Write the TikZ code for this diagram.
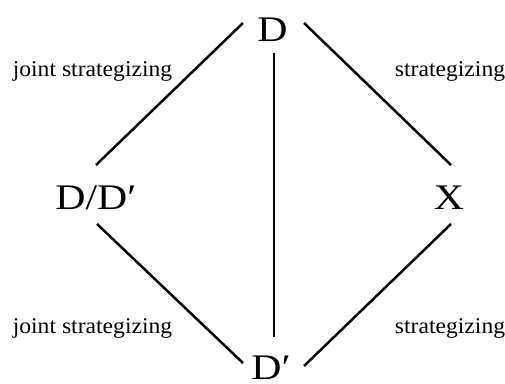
\documentclass[tikz,border=0pt]{standalone}
\usepackage{fontspec}
\setmainfont{Liberation Serif}
\usetikzlibrary{calc}
\newcommand{\bigwide}[1]{\scalebox{1.16}[1]{#1}}
\newcommand{\lblwide}[1]{\scalebox{1.05}[1]{#1}}

\begin{document}
\begin{tikzpicture}[x=1pt, y=1pt, vertex/.style={inner sep=0pt, anchor=base, font=\fontsize{36}{40}\selectfont}, lbl/.style={inner sep=0pt, anchor=base, font=\fontsize{22.5}{26}\selectfont}, edge/.style={line width=2.5pt}]
\useasboundingbox (0,0) rectangle (505,383);
\node[vertex] (top) at (272.5,341) {\bigwide{D}};
\node[vertex] (left) at (96,173) {\bigwide{D/D′}};
\node[vertex] (right) at (449,173) {\bigwide{X}};
\node[vertex] (bot) at (271,4) {\bigwide{D′}};
\node[lbl] (jtop) at (92.5,306) {\lblwide{joint strategizing}};
\node[lbl] (stop) at (450,306) {\lblwide{strategizing}};
\node[lbl] (jbot) at (92.5,50) {\lblwide{joint strategizing}};
\node[lbl] (sbot) at (450,50) {\lblwide{strategizing}};
\draw[edge] ($(top.base)+(-29.5,19)$) -- ($(left.base)+(0,45)$);
\draw[edge] ($(top.base)+(31.5,19)$) -- ($(right.base)+(2,45)$);
\draw[edge] ($(top.base)+(1.5,-11)$) -- ($(bot.base)+(3,42)$);
\draw[edge] ($(left.base)+(1,-14)$) -- ($(bot.base)+(-28,16)$);
\draw[edge] ($(right.base)+(2,-14)$) -- ($(bot.base)+(33,13)$);
\end{tikzpicture}
\end{document}
